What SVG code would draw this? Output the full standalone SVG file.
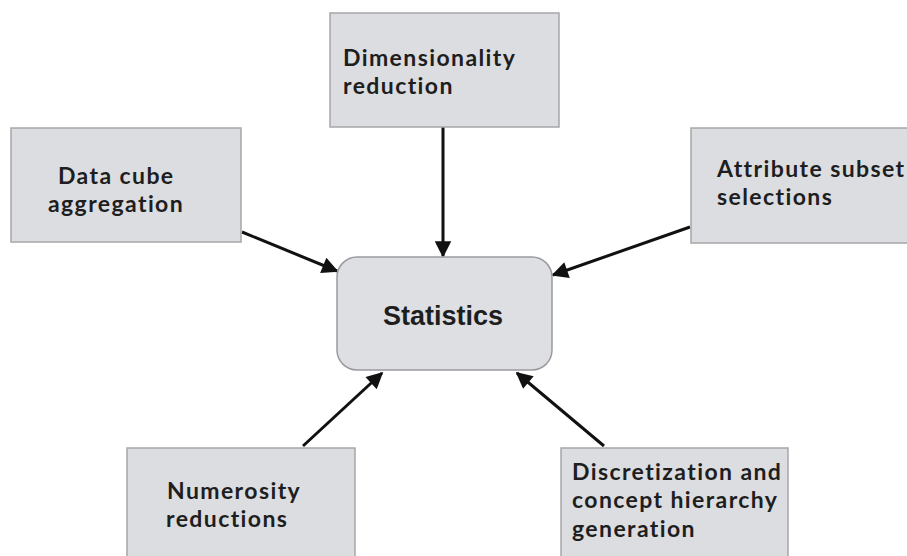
<svg xmlns="http://www.w3.org/2000/svg" width="907" height="556" viewBox="0 0 907 556">
  <style>
    .box { fill: #dcdde0; stroke: #a6a6a8; stroke-width: 1.5; }
    .hub { fill: #dedfe3; stroke: #9a9a9e; stroke-width: 1.5; }
    .lbl { font-family: Lato, "Open Sans", sans-serif; font-weight: bold; font-size: 23px; letter-spacing: 1.4px; font-variant-ligatures: none; fill: #1e1e1e; }
    .hubtxt { font-family: "Liberation Sans", Arial, sans-serif; font-weight: bold; font-size: 27px; fill: #1e1e1e; }
    .edge { stroke: #111; stroke-width: 3; fill: none; marker-end: url(#head); }
  </style>
  <defs>
    <marker id="head" viewBox="0 0 10 10" refX="9" refY="5" markerWidth="6.5" markerHeight="5.5" markerUnits="strokeWidth" orient="auto">
      <path d="M0,0 L10,5 L0,10 z" fill="#111"/>
    </marker>
  </defs>
  <rect width="907" height="556" fill="#ffffff"/>

  <g id="connectors">
    <line class="edge" x1="443" y1="127" x2="443" y2="256"/>
    <line class="edge" x1="242" y1="232" x2="337" y2="271"/>
    <line class="edge" x1="690" y1="227" x2="553" y2="275"/>
    <line class="edge" x1="303" y1="446" x2="382" y2="373"/>
    <line class="edge" x1="604" y1="446" x2="517" y2="373"/>
  </g>

  <g id="dimensionality-reduction">
    <rect class="box" x="330" y="13" width="229" height="114"/>
    <text class="lbl" x="343" y="66">Dimensionality</text>
    <text class="lbl" x="343" y="94">reduction</text>
  </g>

  <g id="data-cube-aggregation">
    <rect class="box" x="11" y="128" width="230" height="114"/>
    <text class="lbl" x="58" y="184">Data cube</text>
    <text class="lbl" x="48" y="212">aggregation</text>
  </g>

  <g id="attribute-subset-selections">
    <rect class="box" x="691" y="128" width="240" height="115"/>
    <text class="lbl" x="717" y="177">Attribute subset</text>
    <text class="lbl" x="717" y="205">selections</text>
  </g>

  <g id="statistics">
    <rect class="hub" x="337" y="257" width="215" height="113" rx="20" ry="20"/>
    <text class="hubtxt" x="443" y="325" text-anchor="middle">Statistics</text>
  </g>

  <g id="numerosity-reductions">
    <rect class="box" x="127" y="448" width="228" height="120"/>
    <text class="lbl" x="167" y="499">Numerosity</text>
    <text class="lbl" x="166" y="527">reductions</text>
  </g>

  <g id="discretization-concept-hierarchy">
    <rect class="box" x="561" y="448" width="227" height="120"/>
    <text class="lbl" x="572" y="480">Discretization and</text>
    <text class="lbl" x="572" y="508">concept hierarchy</text>
    <text class="lbl" x="572" y="537">generation</text>
  </g>
</svg>
